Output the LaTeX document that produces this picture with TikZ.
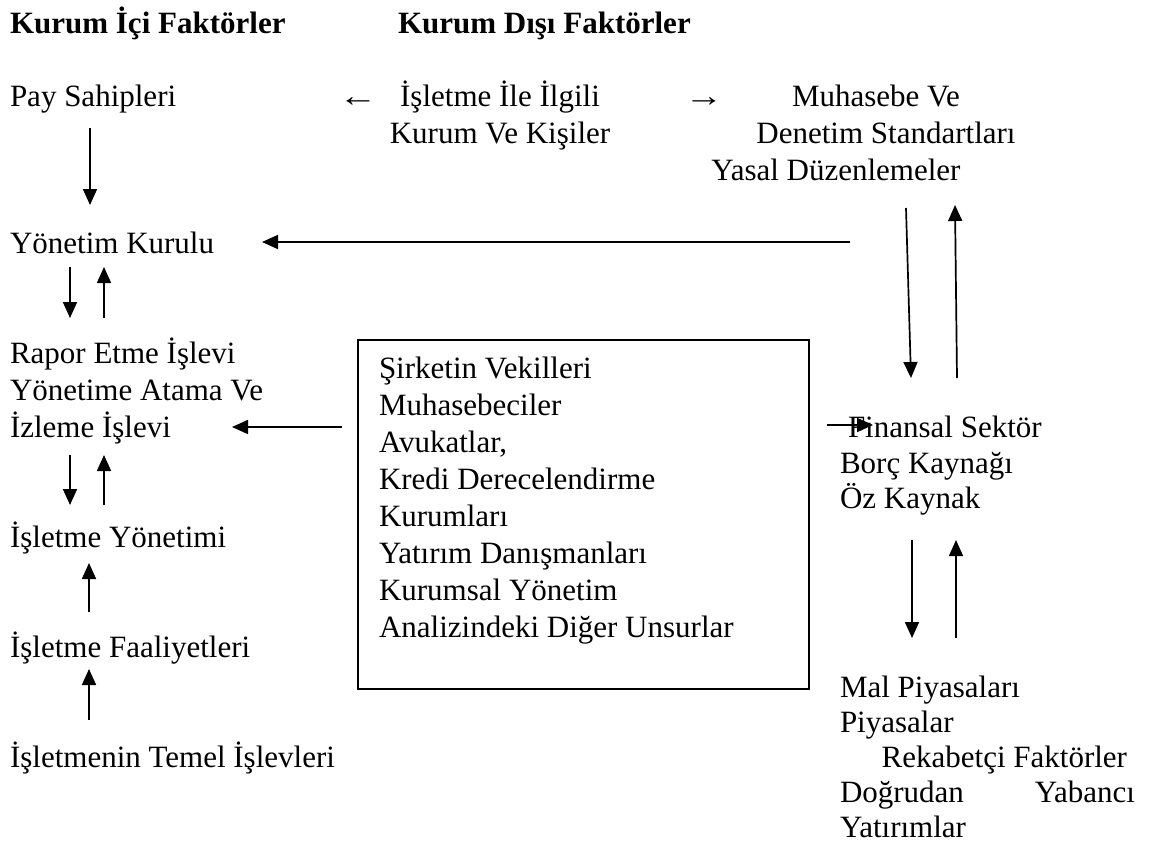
\documentclass[tikz,border=0pt]{standalone}
\usepackage{graphicx}
\usepackage{fontspec}
\setmainfont{Liberation Serif}
\usetikzlibrary{arrows.meta}
\begin{document}
\begin{tikzpicture}[x=1pt,y=-1pt,
  every node/.style={inner sep=0pt, outer sep=0pt, font=\fontsize{31pt}{37pt}\selectfont},
  txt/.style={anchor=base west},
  ctr/.style={anchor=base},
  rgt/.style={anchor=base east},
  head/.style={anchor=base west, font=\fontsize{31pt}{37pt}\selectfont\bfseries},
  arr/.style={line width=1.7pt, -{Triangle[width=14pt,length=16pt]}},
  boxst/.style={draw, line width=1.7pt, minimum width=451pt, minimum height=349pt, anchor=north west}]
\useasboundingbox (0,0) rectangle (1156,847);
% headings
\node[head] (h1) at (10,33) {Kurum İçi Faktörler};
\node[head] (h2) at (398,33) {Kurum Dışı Faktörler};
% top row
\node[txt] (pay) at (10,106) {Pay Sahipleri};
\node[ctr] (larr) at (358,106) {\scalebox{1.25}[1]{←}};
\node[ctr] (isl1) at (500,106) {İşletme İle İlgili};
\node[ctr] (isl2) at (500,143) {Kurum Ve Kişiler};
\node[ctr] (rarr) at (704,106) {\scalebox{1.25}[1]{→}};
\node[ctr] (muh1) at (876,106) {Muhasebe Ve};
\node[ctr] (muh2) at (886,143) {Denetim Standartları};
\node[ctr] (muh3) at (836,180) {Yasal Düzenlemeler};
% left column
\node[txt] (yk) at (10,253) {Yönetim Kurulu};
\node[txt] (rap1) at (10,363) {Rapor Etme İşlevi};
\node[txt] (rap2) at (10,400) {Yönetime Atama Ve};
\node[txt] (rap3) at (10,437) {İzleme İşlevi};
\node[txt] (iy) at (10,547) {İşletme Yönetimi};
\node[txt] (if) at (10,657) {İşletme Faaliyetleri};
\node[txt] (it) at (10,767) {İşletmenin Temel İşlevleri};
% box
\node[boxst] (box) at (358,340) {};
\node[txt] (b1) at (379,378) {Şirketin Vekilleri};
\node[txt] (b2) at (379,415) {Muhasebeciler};
\node[txt] (b3) at (379,452) {Avukatlar,};
\node[txt] (b4) at (379,489) {Kredi Derecelendirme};
\node[txt] (b5) at (379,526) {Kurumları};
\node[txt] (b6) at (379,563) {Yatırım Danışmanları};
\node[txt] (b7) at (379,600) {Kurumsal Yönetim};
\node[txt] (b8) at (379,637) {Analizindeki Diğer Unsurlar};
% right column
\node[txt] (fin1) at (848,437) {Finansal Sektör};
\node[txt] (fin2) at (840,473) {Borç Kaynağı};
\node[txt] (fin3) at (840,508) {Öz Kaynak};
\node[txt] (mal1) at (840,697) {Mal Piyasaları};
\node[txt] (mal2) at (840,732) {Piyasalar};
\node[rgt] (mal3) at (1127,767) {Rekabetçi Faktörler};
\node[txt] (mal4a) at (840,802) {Doğrudan};
\node[rgt] (mal4b) at (1135,802) {Yabancı};
\node[txt] (mal5) at (840,837) {Yatırımlar};
% connector end points
\coordinate (p1) at (90,128);   \coordinate (p2) at (90,205);
\coordinate (q1) at (850,242);  \coordinate (q2) at (262,242);
\coordinate (r1) at (70,267);   \coordinate (r2) at (70,318);
\coordinate (r3) at (104,318);  \coordinate (r4) at (104,267);
\coordinate (s1) at (70,455);   \coordinate (s2) at (70,505);
\coordinate (s3) at (104,505);  \coordinate (s4) at (104,455);
\coordinate (t1) at (89,612);   \coordinate (t2) at (89,563);
\coordinate (u1) at (89,720);   \coordinate (u2) at (89,669);
\coordinate (v1) at (342,427);  \coordinate (v2) at (232,427);
\coordinate (w1) at (906,208);  \coordinate (w2) at (911,378);
\coordinate (w3) at (957,378);  \coordinate (w4) at (955,205);
\coordinate (f1) at (827,425);  \coordinate (f2) at (873,425);
\coordinate (m1) at (912,540);  \coordinate (m2) at (912,638);
\coordinate (m3) at (956,638);  \coordinate (m4) at (956,540);
% connectors
\draw[arr] (p1) -- (p2);
\draw[arr] (q1) -- (q2);
\draw[arr] (r1) -- (r2);
\draw[arr] (r3) -- (r4);
\draw[arr] (s1) -- (s2);
\draw[arr] (s3) -- (s4);
\draw[arr] (t1) -- (t2);
\draw[arr] (u1) -- (u2);
\draw[arr] (v1) -- (v2);
\draw[arr] (w1) -- (w2);
\draw[arr] (w3) -- (w4);
\draw[arr] (f1) -- (f2);
\draw[arr] (m1) -- (m2);
\draw[arr] (m3) -- (m4);
\end{tikzpicture}
\end{document}
